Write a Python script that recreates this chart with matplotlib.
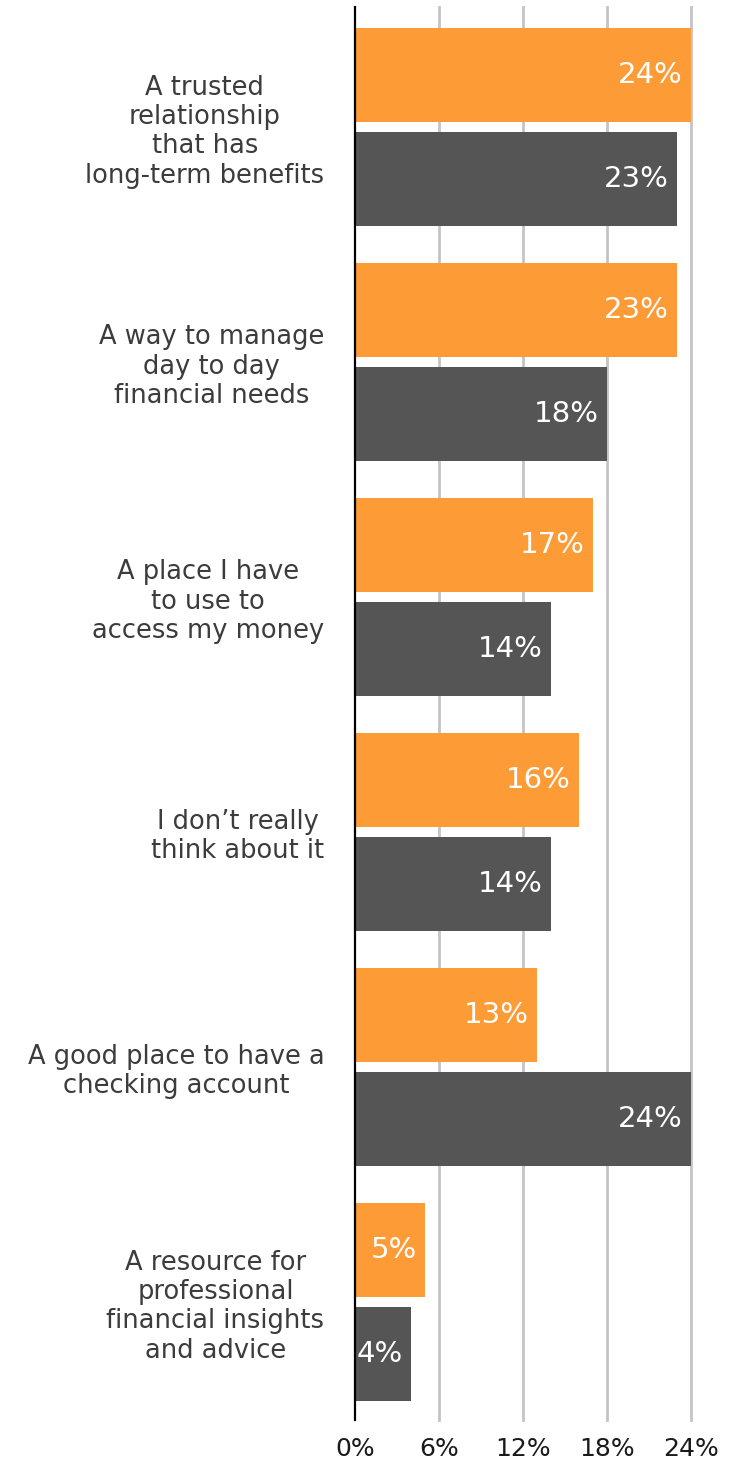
import matplotlib
matplotlib.use("Agg")
import matplotlib.pyplot as plt
import numpy as np

plt.rcParams['font.family'] = ['DejaVu Sans']

categories = [
    "A trusted\nrelationship\nthat has\nlong-term benefits",
    "A way to manage\nday to day\nfinancial needs",
    "A place I have\nto use to\naccess my money",
    "I don\u2019t really\nthink about it",
    "A good place to have a\nchecking account",
    "A resource for\nprofessional\nfinancial insights\nand advice",
]
series_a = [24, 23, 17, 16, 13, 5]   # orange bars
series_b = [23, 18, 14, 14, 24, 4]   # dark gray bars
x_ticks = [0, 6, 12, 18, 24]
x_tick_labels = ["0%", "6%", "12%", "18%", "24%"]

ORANGE = "#FD9B36"
DARK = "#555555"

fig = plt.figure(figsize=(7.33, 14.59), dpi=100)
ax = fig.add_axes([355 / 733, 1 - 1420 / 1459, 336 / 733, 1413 / 1459])

y = np.arange(len(categories))
bar_h = 0.40
offset = 0.2213

bars_a = ax.barh(y - offset, series_a, height=bar_h, color=ORANGE, zorder=3)
bars_b = ax.barh(y + offset, series_b, height=bar_h, color=DARK, zorder=3)

for bars, vals in ((bars_a, series_a), (bars_b, series_b)):
    for rect, v in zip(bars, vals):
        ax.text(v - 0.6, rect.get_y() + rect.get_height() / 2, f"{v}%",
                ha="right", va="center", color="white", fontsize=21,
                zorder=4)

ax.set_xlim(0, 24)
ax.set_ylim(5.502, -0.5106)

ax.set_xticks(x_ticks)
ax.set_xticklabels(x_tick_labels)
ax.set_yticks(y)
ax.set_yticklabels(categories, multialignment="center", linespacing=1.17)

ax.tick_params(axis="x", length=0, pad=12, labelsize=18, labelcolor="#1a1a1a")
ax.tick_params(axis="y", length=0, pad=22, labelsize=18.5, labelcolor="#3c3c3c")

for xv in x_ticks[1:]:
    ax.axvline(xv, color="#c4c4c4", linewidth=2, zorder=1, clip_on=False)

for side in ("top", "right", "bottom"):
    ax.spines[side].set_visible(False)
ax.spines["left"].set_color("black")
ax.spines["left"].set_linewidth(1.6)
ax.spines["left"].set_zorder(5)

fig.savefig("out.png", dpi=100)
